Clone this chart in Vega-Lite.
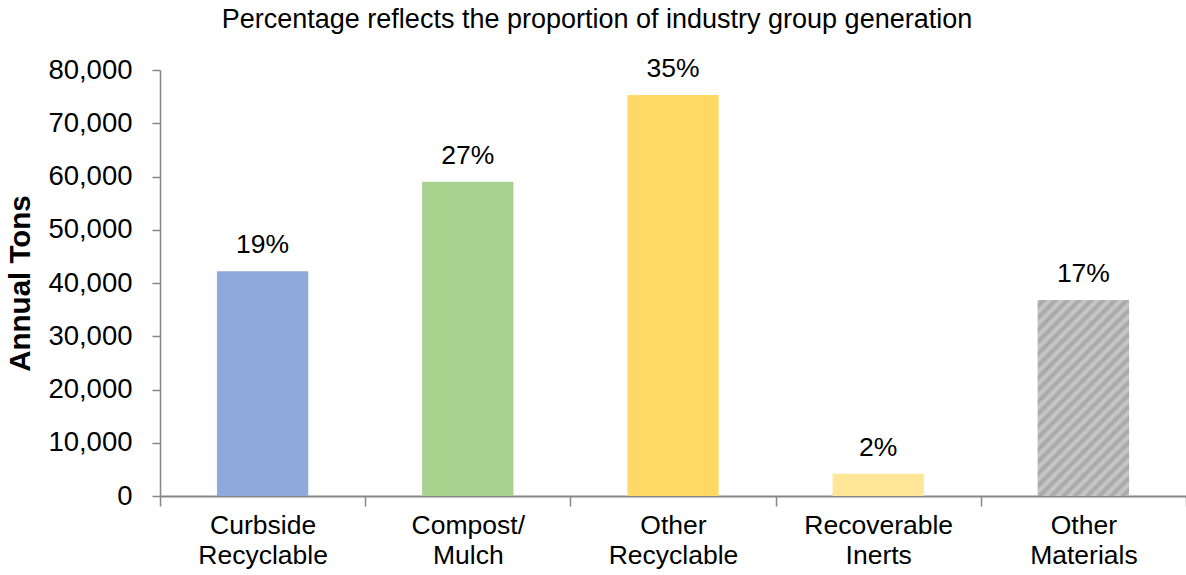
{
  "$schema": "https://vega.github.io/schema/vega-lite/v6.json",
  "autosize": "none",
  "width": 1026,
  "height": 426,
  "padding": {"left": 160, "top": 70, "right": 0, "bottom": 79},
  "background": "white",
  "config": {"view": {"stroke": null}, "font": "Liberation Sans"},
  "title": {"text": "Percentage reflects the proportion of industry group generation", "fontSize": 27, "fontWeight": "normal", "font": "Liberation Sans", "color": "#000000", "anchor": "middle", "frame": "group", "dx": -76, "offset": 22},
  "data": {"values": [
    {"category": "Curbside Recyclable", "tons": 42200, "pct": "19%"},
    {"category": "Compost/ Mulch", "tons": 59000, "pct": "27%"},
    {"category": "Other Recyclable", "tons": 75300, "pct": "35%"},
    {"category": "Recoverable Inerts", "tons": 4200, "pct": "2%"},
    {"category": "Other Materials", "tons": 36800, "pct": "17%"}
  ]},
  "encoding": {
    "x": {"field": "category", "type": "nominal", "sort": null,
      "scale": {"paddingInner": 0, "paddingOuter": 0},
      "axis": {"title": null, "labelAngle": 0, "labelFontSize": 26.5, "labelColor": "#000000", "labelFont": "Liberation Sans",
        "labelExpr": "split(datum.label, ' ')", "labelLineHeight": 30, "labelPadding": 6,
        "tickBand": "extent", "tickSize": 10, "tickColor": "#868686", "domainColor": "#868686", "domainWidth": 2, "tickWidth": 1.5, "labelBaseline": "top"}},
    "y": {"field": "tons", "type": "quantitative",
      "scale": {"domain": [0, 80000], "nice": false},
      "axis": {"title": "Annual Tons", "titleFontSize": 29.5, "titleFontWeight": "bold", "titleColor": "#000000", "titleFont": "Liberation Sans", "titlePadding": 12,
        "values": [0, 10000, 20000, 30000, 40000, 50000, 60000, 70000, 80000], "format": ",.0f",
        "labelFontSize": 27.5, "labelColor": "#000000", "labelFont": "Liberation Sans", "labelPadding": 20,
        "grid": false, "tickSize": 8, "tickColor": "#868686", "domainColor": "#868686", "domainWidth": 1.5, "tickWidth": 1.5}}
  },
  "layer": [
    {"mark": {"type": "bar", "width": {"band": 0.445}},
      "encoding": {"color": {"field": "category", "type": "nominal", "sort": null, "legend": null,
        "scale": {"domain": ["Curbside Recyclable", "Compost/ Mulch", "Other Recyclable", "Recoverable Inerts", "Other Materials"],
          "range": ["#8eaadb", "#a9d18e", "#ffd966", "#ffe699", "#c9c9c9"]}}}},
    {"transform": [{"filter": "datum.category === 'Other Materials'"}],
      "mark": {"type": "bar", "width": {"band": 0.445},
        "color": {"gradient": "linear", "x1": 0, "y1": 0, "x2": 0.565, "y2": 1.204, "stops": [
          {"offset": 0, "color": "#cbcbcb"}, {"offset": 0.02083, "color": "#a4a4a4"},
          {"offset": 0.04167, "color": "#cbcbcb"}, {"offset": 0.0625, "color": "#a4a4a4"},
          {"offset": 0.08333, "color": "#cbcbcb"}, {"offset": 0.10417, "color": "#a4a4a4"},
          {"offset": 0.125, "color": "#cbcbcb"}, {"offset": 0.14583, "color": "#a4a4a4"},
          {"offset": 0.16667, "color": "#cbcbcb"}, {"offset": 0.1875, "color": "#a4a4a4"},
          {"offset": 0.20833, "color": "#cbcbcb"}, {"offset": 0.22917, "color": "#a4a4a4"},
          {"offset": 0.25, "color": "#cbcbcb"}, {"offset": 0.27083, "color": "#a4a4a4"},
          {"offset": 0.29167, "color": "#cbcbcb"}, {"offset": 0.3125, "color": "#a4a4a4"},
          {"offset": 0.33333, "color": "#cbcbcb"}, {"offset": 0.35417, "color": "#a4a4a4"},
          {"offset": 0.375, "color": "#cbcbcb"}, {"offset": 0.39583, "color": "#a4a4a4"},
          {"offset": 0.41667, "color": "#cbcbcb"}, {"offset": 0.4375, "color": "#a4a4a4"},
          {"offset": 0.45833, "color": "#cbcbcb"}, {"offset": 0.47917, "color": "#a4a4a4"},
          {"offset": 0.5, "color": "#cbcbcb"}, {"offset": 0.52083, "color": "#a4a4a4"},
          {"offset": 0.54167, "color": "#cbcbcb"}, {"offset": 0.5625, "color": "#a4a4a4"},
          {"offset": 0.58333, "color": "#cbcbcb"}, {"offset": 0.60417, "color": "#a4a4a4"},
          {"offset": 0.625, "color": "#cbcbcb"}, {"offset": 0.64583, "color": "#a4a4a4"},
          {"offset": 0.66667, "color": "#cbcbcb"}, {"offset": 0.6875, "color": "#a4a4a4"},
          {"offset": 0.70833, "color": "#cbcbcb"}, {"offset": 0.72917, "color": "#a4a4a4"},
          {"offset": 0.75, "color": "#cbcbcb"}, {"offset": 0.77083, "color": "#a4a4a4"},
          {"offset": 0.79167, "color": "#cbcbcb"}, {"offset": 0.8125, "color": "#a4a4a4"},
          {"offset": 0.83333, "color": "#cbcbcb"}, {"offset": 0.85417, "color": "#a4a4a4"},
          {"offset": 0.875, "color": "#cbcbcb"}, {"offset": 0.89583, "color": "#a4a4a4"},
          {"offset": 0.91667, "color": "#cbcbcb"}, {"offset": 0.9375, "color": "#a4a4a4"},
          {"offset": 0.95833, "color": "#cbcbcb"}, {"offset": 0.97917, "color": "#a4a4a4"},
          {"offset": 1, "color": "#cbcbcb"}
        ]}}},
    {"mark": {"type": "text", "fontSize": 26.5, "font": "Liberation Sans", "color": "#000000", "baseline": "bottom", "dy": -12},
      "encoding": {"text": {"field": "pct", "type": "nominal"}}}
  ]
}
